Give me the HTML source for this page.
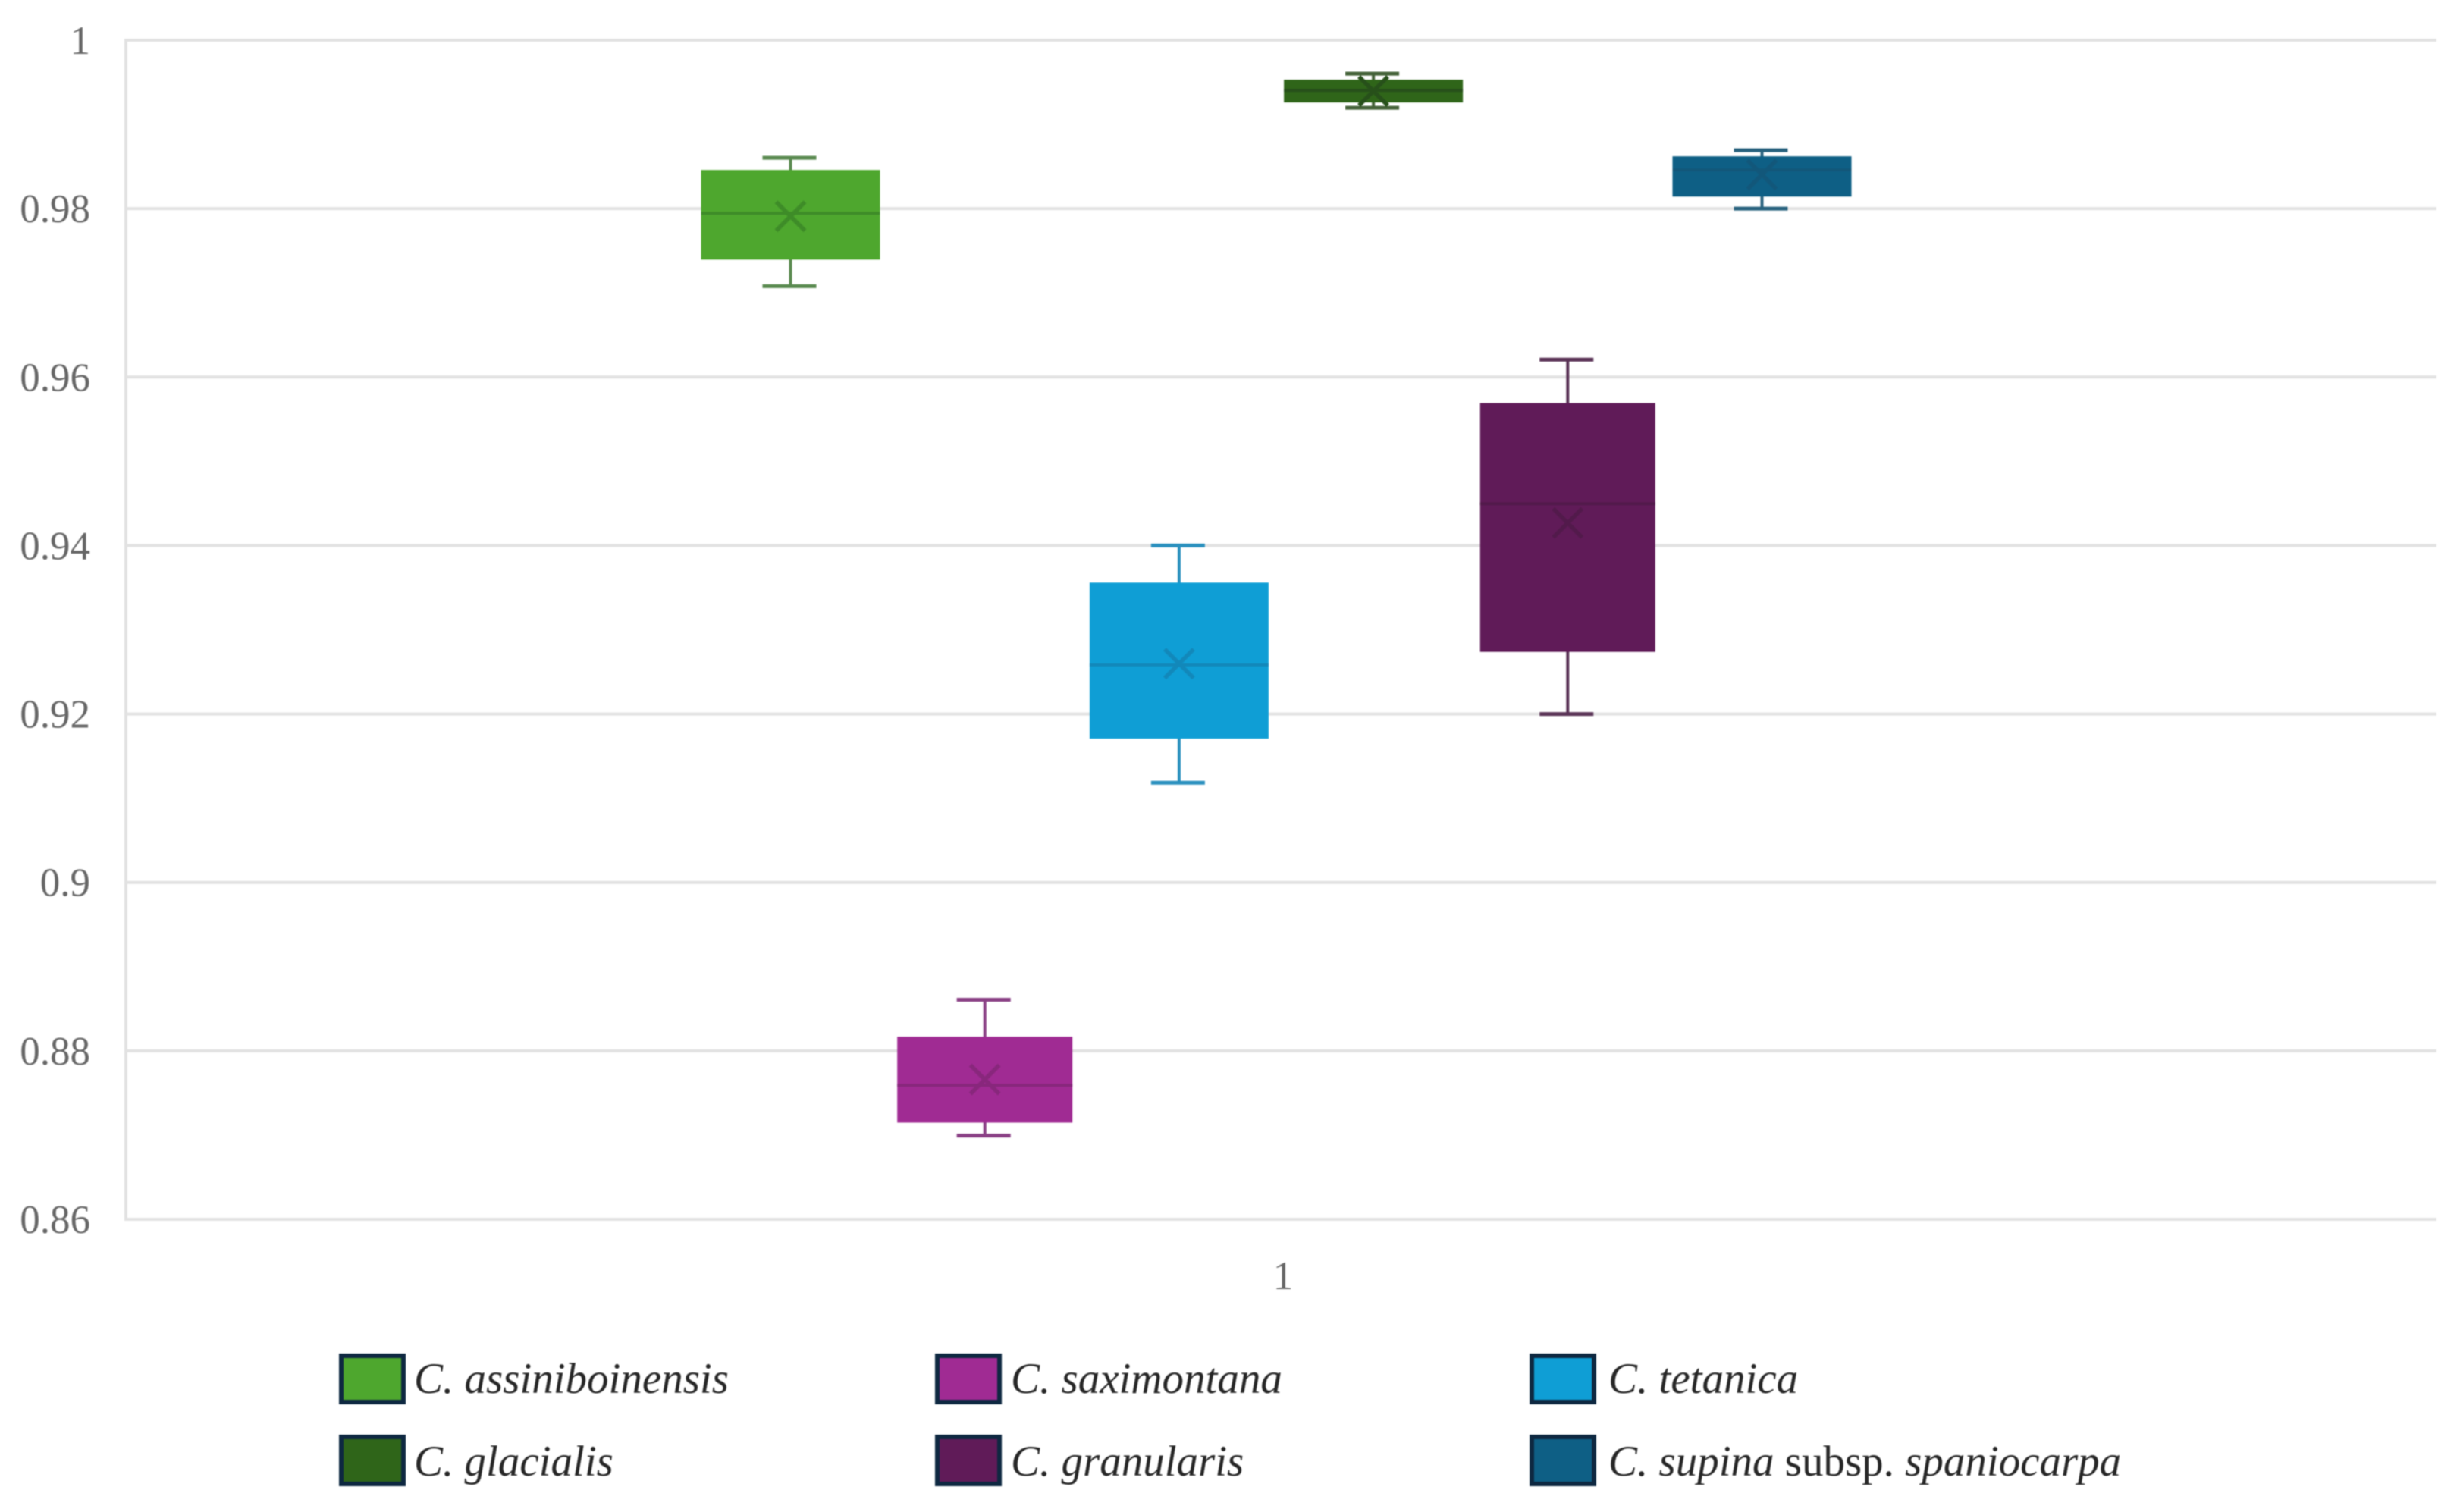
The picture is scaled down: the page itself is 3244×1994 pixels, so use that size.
<!DOCTYPE html>
<html lang="en">
<head>
<meta charset="utf-8">
<title>Box plot of six taxa</title>
<style>
html,body{margin:0;padding:0;background:#fff;width:3244px;height:1994px;overflow:hidden}
svg{display:block;filter:blur(0.7px)}
.tick{font-family:"Liberation Serif",serif;font-size:53px;fill:#666}
.leg{font-family:"Liberation Serif",serif;font-size:57px;fill:#262626}
.i{font-style:italic}
</style>
</head>
<body>
<svg id="chart" xmlns="http://www.w3.org/2000/svg" width="3244" height="1994" viewBox="0 0 3244 1994">
<g id="grid"></g>
<g id="yticks"></g>
<g id="boxes"></g>
<text class="tick" x="1692" y="1700" text-anchor="middle">1</text>
<g>
<g>
<rect x="450" y="1788" width="82" height="61" fill="#4EA72E" stroke="#0E2841" stroke-width="6"/>
<text class="leg" x="546" y="1837"><tspan class="i">C. assiniboinensis</tspan></text>
</g>
<g>
<rect x="1236" y="1788" width="82" height="61" fill="#A02B93" stroke="#0E2841" stroke-width="6"/>
<text class="leg" x="1333" y="1837"><tspan class="i">C. saximontana</tspan></text>
</g>
<g>
<rect x="2020" y="1788" width="82" height="61" fill="#0F9ED5" stroke="#0E2841" stroke-width="6"/>
<text class="leg" x="2121" y="1837"><tspan class="i">C. tetanica</tspan></text>
</g>
<g>
<rect x="450" y="1895" width="82" height="62" fill="#2F6519" stroke="#0E2841" stroke-width="6"/>
<text class="leg" x="546" y="1946"><tspan class="i">C. glacialis</tspan></text>
</g>
<g>
<rect x="1236" y="1895" width="82" height="62" fill="#601B58" stroke="#0E2841" stroke-width="6"/>
<text class="leg" x="1333" y="1946"><tspan class="i">C. granularis</tspan></text>
</g>
<g>
<rect x="2020" y="1895" width="82" height="62" fill="#0E5F85" stroke="#0E2841" stroke-width="6"/>
<text class="leg" x="2121" y="1946"><tspan class="i">C. supina</tspan> subsp. <tspan class="i">spaniocarpa</tspan></text>
</g>
</g>
</svg>
<script>
const categories = ['assiniboinensis','saximontana','tetanica','glacialis','granularis','supina-spaniocarpa'];
const whiskerHigh = [0.98603,0.88606,0.94,0.99603,0.96207,0.98693];
const q3Values = [0.98459,0.88168,0.9356,0.99531,0.95692,0.98621];
const medians = [0.97945,0.87591,0.92583,0.99405,0.94497,0.98459];
const means = [0.97909,0.8766,0.92598,0.99396,0.94268,0.98405];
const q1Values = [0.97395,0.87148,0.91707,0.99261,0.92737,0.98143];
const whiskerLow = [0.9708,0.86994,0.91184,0.99198,0.92,0.98];
const yTicks = [1,0.98,0.96,0.94,0.92,0.9,0.88,0.86];
const yTickLabels = ['1','0.98','0.96','0.94','0.92','0.9','0.88','0.86'];
const fills = ['#4EA72E','#A02B93','#0F9ED5','#2F6519','#601B58','#0E5F85'];
const inners = ['#3E8C28','#88277C','#1288BA','#27501A','#521A4B','#12577A'];
const whiskerColors = ['#5A8A50','#8A4085','#2A90BE','#446238','#5A3356','#28627E'];

const NS = 'http://www.w3.org/2000/svg';
const plotLeft = 166, plotRight = 3213, plotTop = 53, plotBottom = 1608;
const yDomainMin = 0.86, yDomainMax = 1;
const firstCenter = 1042.5, bandStep = 256.2, capWidth = 71, markSize = 19;
function yScale(v){ return plotBottom - (v - yDomainMin) / (yDomainMax - yDomainMin) * (plotBottom - plotTop); }
function xScale(i){ return firstCenter + i * bandStep; }
function boxWidthFor(i){ return (i === 1 || i === 4) ? 231 : 236; }
function make(tag, attrs, parent){
  const el = document.createElementNS(NS, tag);
  for (const k in attrs) el.setAttribute(k, attrs[k]);
  parent.appendChild(el);
  return el;
}
const grid = document.getElementById('grid');
const yt = document.getElementById('yticks');
yTicks.forEach(function(t, i){
  const line = make('line', {x1: plotLeft, x2: plotRight, y1: yScale(t), y2: yScale(t), stroke: '#e2e2e2', 'stroke-width': 4}, grid);
  
  
  const lab = make('text', {x: 119, y: yScale(t) + 18, 'text-anchor': 'end', class: 'tick'}, yt);
  lab.textContent = yTickLabels[i];
  
  
});
const axisLine = make('line', {x1: plotLeft, x2: plotLeft, y1: plotTop - 2, y2: plotBottom + 2, stroke: '#e2e2e2', 'stroke-width': 4}, grid);



const boxesLayer = document.getElementById('boxes');
categories.forEach(function(name, i){
  const cx = xScale(i);
  const bw = boxWidthFor(i);
  const g = make('g', {}, boxesLayer);
  
  
  const wc = whiskerColors[i];
  const col = inners[i];
  const whisker = make('line', {x1: cx, x2: cx, y1: yScale(whiskerHigh[i]), y2: yScale(whiskerLow[i]), stroke: wc, 'stroke-width': 4}, g);
  
  
  [whiskerHigh[i], whiskerLow[i]].forEach(function(v){
    const cap = make('line', {x1: cx - 1.5 - capWidth / 2, x2: cx - 1.5 + capWidth / 2, y1: yScale(v), y2: yScale(v), stroke: wc, 'stroke-width': 5}, g);
    
    
  });
  const box = make('rect', {x: cx - bw / 2, y: yScale(q3Values[i]), width: bw, height: yScale(q1Values[i]) - yScale(q3Values[i]), fill: fills[i]}, g);
  
  
  const med = make('line', {x1: cx - bw / 2, x2: cx + bw / 2, y1: yScale(medians[i]), y2: yScale(medians[i]), stroke: col, 'stroke-width': 4}, g);
  
  
  const my = yScale(means[i]);
  const mark = make('path', {d: 'M' + (cx - markSize) + ' ' + (my - markSize) + 'L' + (cx + markSize) + ' ' + (my + markSize) + 'M' + (cx + markSize) + ' ' + (my - markSize) + 'L' + (cx - markSize) + ' ' + (my + markSize), stroke: col, 'stroke-width': 5.5, fill: 'none'}, g);
  
  
});
</script>
</body>
</html>
